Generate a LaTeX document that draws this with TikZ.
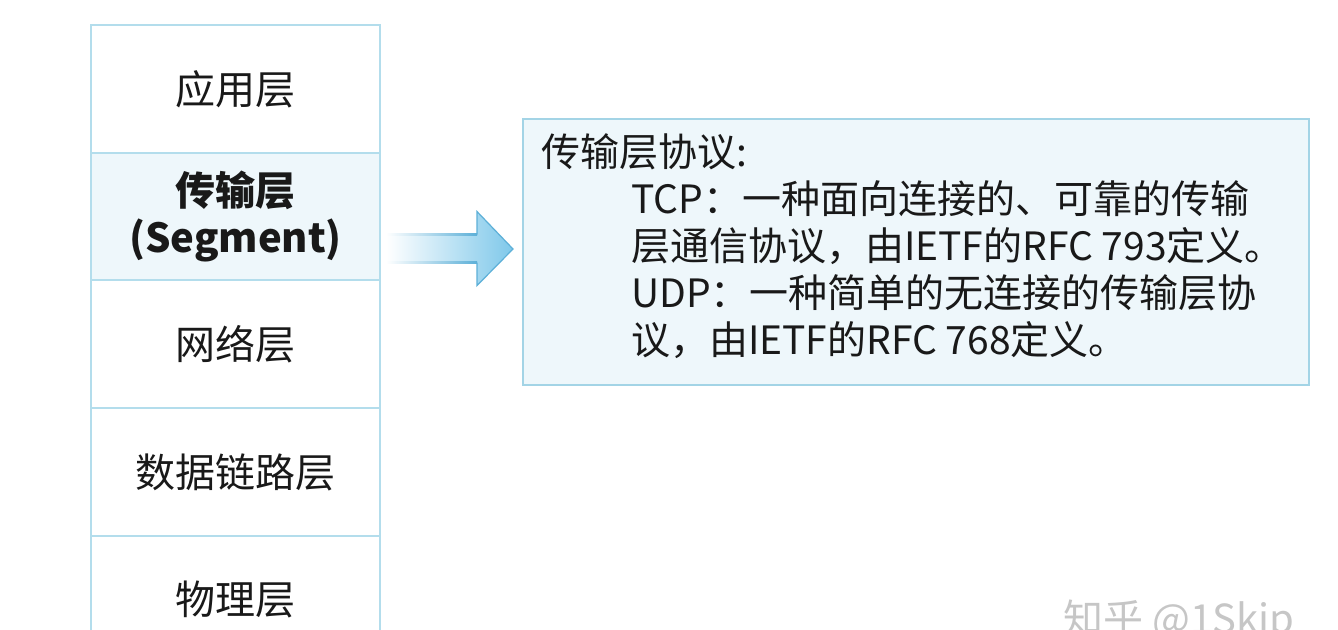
\documentclass[tikz,border=0pt]{standalone}
\usepackage{fontspec}
\setmainfont{Noto Sans CJK SC}
\usetikzlibrary{calc}
\definecolor{layeredge}{HTML}{B3DDEC}
\definecolor{transfill}{HTML}{EEF7FB}
\definecolor{boxfill}{HTML}{EEF7FB}
\definecolor{boxedge}{HTML}{A3D4E6}
\definecolor{arrowblue}{HTML}{7FC8EA}
\definecolor{arrowedge}{HTML}{5DB0D8}
\definecolor{wmgray}{HTML}{C6C6C6}
\begin{document}
\begin{tikzpicture}[x=1pt,y=-1pt,
  layerbox/.style={draw=layeredge, line width=2pt, minimum width=289pt, minimum height=127.7pt,
    outer sep=0pt, inner sep=0pt, align=center, font=\fontsize{40}{47}\selectfont, text=black!90},
  infoline/.style={anchor=west, inner sep=0pt, text height=0.88em, text depth=0.12em,
    font=\fontsize{39}{46}\selectfont, text=black!90}]
\clip (0,0) rectangle (1338,629);
\fill[white] (0,0) rectangle (1338,629);
% layer stack
\node[layerbox, anchor=north west] (app) at (91,25) {应用层};
\node[layerbox, anchor=north, fill=transfill, font=\fontsize{40}{47}\selectfont\bfseries] (trans) at (app.south) {传输层\\(Segment)};
\node[layerbox, anchor=north] (net) at (trans.south) {网络层};
\node[layerbox, anchor=north] (link) at (net.south) {数据链路层};
\node[layerbox, anchor=north] (phy) at (link.south) {物理层};
% info box
\node[draw=boxedge, fill=boxfill, line width=2pt, minimum width=786pt, minimum height=266pt,
  outer sep=0pt, inner sep=0pt, anchor=north west] (info) at (523,119) {};
\node[infoline] (l1) at (541,163) {传输层协议:};
\node[infoline] (l2) at (631,210) {TCP：一种面向连接的、可靠的传输};
\node[infoline] (l3) at (631,257) {层通信协议，由IETF的RFC 793定义。};
\node[infoline] (l4) at (631,304) {UDP：一种简单的无连接的传输层协};
\node[infoline] (l5) at (631,351) {议，由IETF的RFC 768定义。};
% block arrow from transport layer to info box
\coordinate (as) at ($(trans.east)+(6,32)$);
\coordinate (at) at ($(info.west)+(-10,-3)$);
\shade[left color=white, right color=arrowblue]
  ($(as)+(0,-14)$) -- ($(as)+(91,-14)$) -- ($(as)+(91,-37)$) -- (at)
  -- ($(as)+(91,37)$) -- ($(as)+(91,14)$) -- ($(as)+(0,14)$) -- cycle;
\shade[left color=white, right color=arrowedge] ($(as)+(0,-15)$) rectangle ($(as)+(91,-13)$);
\shade[left color=white, right color=arrowedge] ($(as)+(0,13)$) rectangle ($(as)+(91,15)$);
\draw[arrowedge, line width=1.2pt, line join=miter]
  ($(as)+(91,-14)$) -- ($(as)+(91,-37)$) -- (at) -- ($(as)+(91,37)$) -- ($(as)+(91,14)$);
% watermark
\node[anchor=west, inner sep=0pt, text=wmgray, font=\fontsize{40}{48}\selectfont] (wm) at (1063,621) {知乎 @1Skip};
\end{tikzpicture}
\end{document}
